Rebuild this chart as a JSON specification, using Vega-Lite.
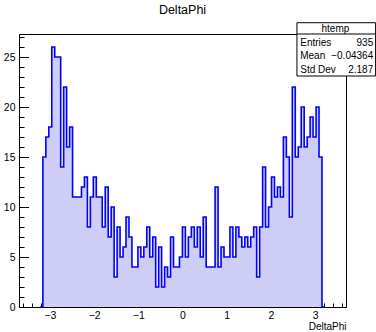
{
  "$schema": "https://vega.github.io/schema/vega-lite/v6.json",
  "width": 327,
  "height": 273,
  "autosize": {"type": "none"},
  "padding": {"left": 19, "top": 34, "right": 30, "bottom": 25},
  "background": "white",
  "config": {
    "view": {"stroke": "black", "strokeWidth": 1},
    "font": "Liberation Sans Narrow, Liberation Sans, Arial, sans-serif",
    "axis": {"grid": false, "domainColor": "black", "tickColor": "black", "labelColor": "black", "titleColor": "black", "zindex": 1, "domainWidth": 1, "tickWidth": 1}
  },
  "title": {"text": "DeltaPhi", "frame": "group", "anchor": "middle", "offset": 6, "fontSize": 12.5, "fontWeight": "normal", "color": "black"},
  "layer": [
    {
      "data": {"values": [
        {"lo": -3.2272, "hi": -3.16, "n": 0},
        {"lo": -3.16, "hi": -3.0928, "n": 15},
        {"lo": -3.0928, "hi": -3.0256, "n": 17},
        {"lo": -3.0256, "hi": -2.9584, "n": 18},
        {"lo": -2.9584, "hi": -2.8912, "n": 26},
        {"lo": -2.8912, "hi": -2.824, "n": 25},
        {"lo": -2.824, "hi": -2.7568, "n": 25},
        {"lo": -2.7568, "hi": -2.6896, "n": 14},
        {"lo": -2.6896, "hi": -2.6224, "n": 22},
        {"lo": -2.6224, "hi": -2.5552, "n": 16},
        {"lo": -2.5552, "hi": -2.488, "n": 18},
        {"lo": -2.488, "hi": -2.4208, "n": 11},
        {"lo": -2.4208, "hi": -2.3536, "n": 11},
        {"lo": -2.3536, "hi": -2.2864, "n": 11},
        {"lo": -2.2864, "hi": -2.2192, "n": 12},
        {"lo": -2.2192, "hi": -2.152, "n": 13},
        {"lo": -2.152, "hi": -2.0848, "n": 8},
        {"lo": -2.0848, "hi": -2.0176, "n": 11},
        {"lo": -2.0176, "hi": -1.9504, "n": 13},
        {"lo": -1.9504, "hi": -1.8832, "n": 11},
        {"lo": -1.8832, "hi": -1.816, "n": 11},
        {"lo": -1.816, "hi": -1.7488, "n": 8},
        {"lo": -1.7488, "hi": -1.6816, "n": 12},
        {"lo": -1.6816, "hi": -1.6144, "n": 7},
        {"lo": -1.6144, "hi": -1.5472, "n": 10},
        {"lo": -1.5472, "hi": -1.48, "n": 3},
        {"lo": -1.48, "hi": -1.4128, "n": 8},
        {"lo": -1.4128, "hi": -1.3456, "n": 5},
        {"lo": -1.3456, "hi": -1.2784, "n": 6},
        {"lo": -1.2784, "hi": -1.2112, "n": 9},
        {"lo": -1.2112, "hi": -1.144, "n": 7},
        {"lo": -1.144, "hi": -1.0768, "n": 4},
        {"lo": -1.0768, "hi": -1.0096, "n": 4},
        {"lo": -1.0096, "hi": -0.9424, "n": 6},
        {"lo": -0.9424, "hi": -0.8752, "n": 5},
        {"lo": -0.8752, "hi": -0.808, "n": 6},
        {"lo": -0.808, "hi": -0.7408, "n": 8},
        {"lo": -0.7408, "hi": -0.6736, "n": 5},
        {"lo": -0.6736, "hi": -0.6064, "n": 7},
        {"lo": -0.6064, "hi": -0.5392, "n": 2},
        {"lo": -0.5392, "hi": -0.472, "n": 6},
        {"lo": -0.472, "hi": -0.4048, "n": 2},
        {"lo": -0.4048, "hi": -0.3376, "n": 4},
        {"lo": -0.3376, "hi": -0.2704, "n": 3},
        {"lo": -0.2704, "hi": -0.2032, "n": 7},
        {"lo": -0.2032, "hi": -0.136, "n": 4},
        {"lo": -0.136, "hi": -0.0688, "n": 4},
        {"lo": -0.0688, "hi": -0.0016, "n": 5},
        {"lo": -0.0016, "hi": 0.0656, "n": 8},
        {"lo": 0.0656, "hi": 0.1328, "n": 5},
        {"lo": 0.1328, "hi": 0.2, "n": 7},
        {"lo": 0.2, "hi": 0.2672, "n": 8},
        {"lo": 0.2672, "hi": 0.3344, "n": 6},
        {"lo": 0.3344, "hi": 0.4016, "n": 8},
        {"lo": 0.4016, "hi": 0.4688, "n": 5},
        {"lo": 0.4688, "hi": 0.536, "n": 9},
        {"lo": 0.536, "hi": 0.6032, "n": 4},
        {"lo": 0.6032, "hi": 0.6704, "n": 4},
        {"lo": 0.6704, "hi": 0.7376, "n": 4},
        {"lo": 0.7376, "hi": 0.8048, "n": 12},
        {"lo": 0.8048, "hi": 0.872, "n": 4},
        {"lo": 0.872, "hi": 0.9392, "n": 6},
        {"lo": 0.9392, "hi": 1.0064, "n": 5},
        {"lo": 1.0064, "hi": 1.0736, "n": 5},
        {"lo": 1.0736, "hi": 1.1408, "n": 8},
        {"lo": 1.1408, "hi": 1.208, "n": 5},
        {"lo": 1.208, "hi": 1.2752, "n": 8},
        {"lo": 1.2752, "hi": 1.3424, "n": 7},
        {"lo": 1.3424, "hi": 1.4096, "n": 6},
        {"lo": 1.4096, "hi": 1.4768, "n": 7},
        {"lo": 1.4768, "hi": 1.544, "n": 6},
        {"lo": 1.544, "hi": 1.6112, "n": 7},
        {"lo": 1.6112, "hi": 1.6784, "n": 8},
        {"lo": 1.6784, "hi": 1.7456, "n": 3},
        {"lo": 1.7456, "hi": 1.8128, "n": 8},
        {"lo": 1.8128, "hi": 1.88, "n": 14},
        {"lo": 1.88, "hi": 1.9472, "n": 8},
        {"lo": 1.9472, "hi": 2.0144, "n": 10},
        {"lo": 2.0144, "hi": 2.0816, "n": 13},
        {"lo": 2.0816, "hi": 2.1488, "n": 11},
        {"lo": 2.1488, "hi": 2.216, "n": 12},
        {"lo": 2.216, "hi": 2.2832, "n": 11},
        {"lo": 2.2832, "hi": 2.3504, "n": 17},
        {"lo": 2.3504, "hi": 2.4176, "n": 15},
        {"lo": 2.4176, "hi": 2.4848, "n": 9},
        {"lo": 2.4848, "hi": 2.552, "n": 22},
        {"lo": 2.552, "hi": 2.6192, "n": 15},
        {"lo": 2.6192, "hi": 2.6864, "n": 16},
        {"lo": 2.6864, "hi": 2.7536, "n": 20},
        {"lo": 2.7536, "hi": 2.8208, "n": 16},
        {"lo": 2.8208, "hi": 2.888, "n": 17},
        {"lo": 2.888, "hi": 2.9552, "n": 19},
        {"lo": 2.9552, "hi": 3.0224, "n": 17},
        {"lo": 3.0224, "hi": 3.0896, "n": 20},
        {"lo": 3.0896, "hi": 3.1568, "n": 15},
        {"lo": 3.1568, "hi": 3.224, "n": 0}
      ]},
      "transform": [{"fold": ["lo", "hi"], "as": ["edge", "xv"]}],
      "layer": [
        {
          "mark": {"type": "area", "color": "#cdcdf6", "interpolate": "linear"},
          "encoding": {
            "x": {"field": "xv", "type": "quantitative", "scale": {"domain": [-3.7, 3.7], "nice": false, "zero": false},
              "axis": {"orient": "bottom", "values": [-3, -2, -1, 0, 1, 2, 3], "format": "d", "tickSize": -8, "labelPadding": 11, "labelFontSize": 10.5, "labelFlush": false,
                "title": "DeltaPhi", "titleAnchor": "end", "titleFontSize": 10, "titleFontWeight": "normal", "titlePadding": 1}},
            "y": {"field": "n", "type": "quantitative", "stack": null, "scale": {"domain": [0, 27.3], "nice": false, "zero": false},
              "axis": {"orient": "left", "values": [0, 5, 10, 15, 20, 25], "format": "d", "tickSize": -9.5, "labelPadding": 13.5, "labelFontSize": 10.5, "labelFlush": false, "title": null}}
          }
        },
        {
          "mark": {"type": "line", "color": "#0000ff", "strokeWidth": 1.6, "interpolate": "linear"},
          "encoding": {
            "x": {"field": "xv", "type": "quantitative", "scale": {"domain": [-3.7, 3.7], "nice": false, "zero": false},
              "axis": {"orient": "bottom", "values": [-3.6, -3.4, -3.2, -2.8, -2.6, -2.4, -2.2, -1.8, -1.6, -1.4, -1.2, -0.8, -0.6, -0.4, -0.2, 0.2, 0.4, 0.6, 0.8, 1.2, 1.4, 1.6, 1.8, 2.2, 2.4, 2.6, 2.8, 3.2, 3.4, 3.6], "tickSize": -4, "labels": false, "domain": false, "title": null}},
            "y": {"field": "n", "type": "quantitative", "stack": null, "scale": {"domain": [0, 27.3], "nice": false, "zero": false},
              "axis": {"orient": "left", "values": [1, 2, 3, 4, 6, 7, 8, 9, 11, 12, 13, 14, 16, 17, 18, 19, 21, 22, 23, 24, 26, 27], "tickSize": -5, "labels": false, "domain": false, "title": null}}
          }
        }
      ],
      "resolve": {"axis": {"x": "independent", "y": "independent"}}
    },
    {
      "data": {"values": [
        {"row": 0, "label": "htemp", "value": ""},
        {"row": 1, "label": "Entries", "value": "935"},
        {"row": 2, "label": "Mean", "value": "−0.04364"},
        {"row": 3, "label": "Std Dev", "value": "2.187"}
      ]},
      "layer": [
        {
          "transform": [{"filter": "datum.row == 0"}],
          "mark": {"type": "rect", "fill": "white", "stroke": "black", "strokeWidth": 1},
          "encoding": {
            "x": {"datum": 2.59, "type": "quantitative", "scale": {"domain": [-3.7, 3.7], "nice": false, "zero": false}, "axis": null},
            "x2": {"datum": 4.37},
            "y": {"datum": -0.485, "type": "quantitative", "scale": {"domain": [0.3456, 20.42], "reverse": true, "nice": false, "zero": false}, "axis": null},
            "y2": {"datum": 3.434}
          }
        },
        {
          "transform": [{"filter": "datum.row == 0"}],
          "mark": {"type": "rule", "color": "black", "strokeWidth": 1},
          "encoding": {
            "x": {"datum": 2.59, "type": "quantitative", "axis": null},
            "x2": {"datum": 4.37},
            "y": {"datum": 0.3456, "type": "quantitative", "axis": null}
          }
        },
        {
          "transform": [{"filter": "datum.row == 0"}],
          "mark": {"type": "text", "align": "center", "baseline": "middle", "fontSize": 10, "color": "black"},
          "encoding": {
            "x": {"datum": 3.46, "type": "quantitative", "axis": null},
            "y": {"field": "row", "type": "quantitative", "axis": null},
            "text": {"field": "label"}
          }
        },
        {
          "transform": [{"filter": "datum.row > 0"}],
          "mark": {"type": "text", "align": "left", "baseline": "middle", "fontSize": 10, "color": "black"},
          "encoding": {
            "x": {"datum": 2.664, "type": "quantitative", "axis": null},
            "y": {"field": "row", "type": "quantitative", "axis": null},
            "text": {"field": "label"}
          }
        },
        {
          "transform": [{"filter": "datum.row > 0"}],
          "mark": {"type": "text", "align": "right", "baseline": "middle", "fontSize": 10, "color": "black"},
          "encoding": {
            "x": {"datum": 4.316, "type": "quantitative", "axis": null},
            "y": {"field": "row", "type": "quantitative", "axis": null},
            "text": {"field": "value"}
          }
        }
      ]
    }
  ],
  "resolve": {"scale": {"y": "independent"}, "axis": {"x": "independent", "y": "independent"}}
}
